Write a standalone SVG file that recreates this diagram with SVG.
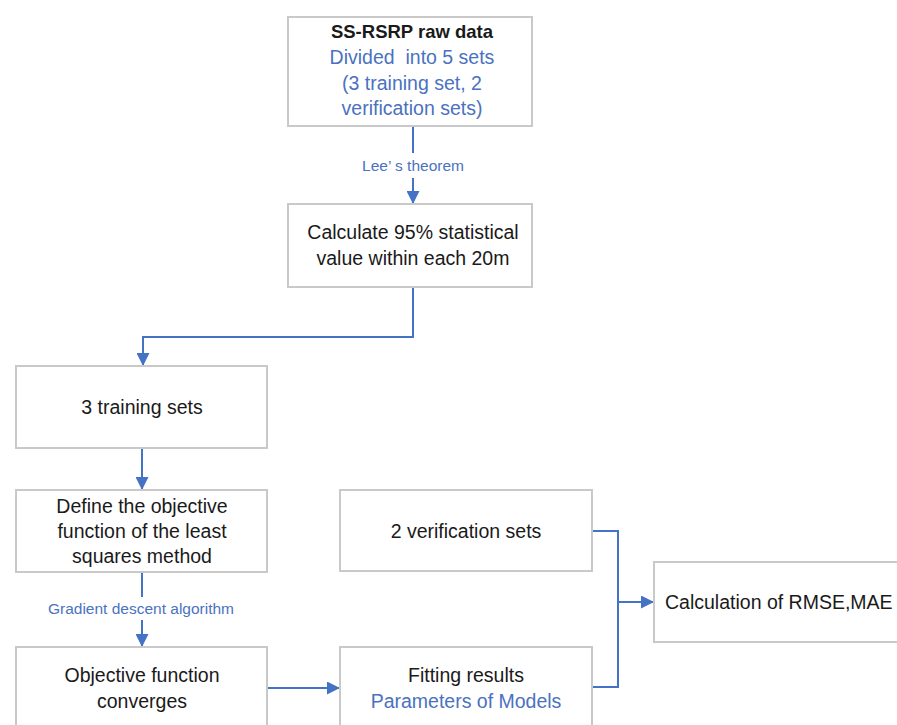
<svg xmlns="http://www.w3.org/2000/svg" width="897" height="725" viewBox="0 0 897 725">
<style>
.box{fill:#fff;stroke:#c9c9c9;stroke-width:2}
.t{font-family:"Liberation Sans",Arial,sans-serif;font-size:19.5px;fill:#1a1a1a;text-anchor:middle}
.b{fill:#4a72c0}
.s{font-family:"Liberation Sans",Arial,sans-serif;font-size:15.5px;fill:#4a72c0;text-anchor:middle}
.c{fill:none;stroke:#4472c4;stroke-width:2}
</style>
<defs>
<marker id="ah" markerWidth="13" markerHeight="13" refX="12" refY="6.5" orient="auto" markerUnits="userSpaceOnUse" viewBox="0 0 13 13">
<path d="M0,0 L13,6.5 L0,13 z" fill="#4472c4"/>
</marker>
</defs>
<rect width="897" height="725" fill="#fff"/>
<g id="connectors">
<line class="c" x1="413" y1="126" x2="413" y2="153"/>
<line class="c" x1="413" y1="178" x2="413" y2="203" marker-end="url(#ah)"/>
<polyline class="c" points="413,287 413,337 143,337 143,365" marker-end="url(#ah)"/>
<line class="c" x1="142" y1="448" x2="142" y2="489" marker-end="url(#ah)"/>
<line class="c" x1="142" y1="572" x2="142" y2="597"/>
<line class="c" x1="142" y1="620" x2="142" y2="646" marker-end="url(#ah)"/>
<line class="c" x1="267" y1="688" x2="339" y2="688" marker-end="url(#ah)"/>
<polyline class="c" points="592,531 618,531 618,687 592,687"/>
<line class="c" x1="618" y1="602" x2="653" y2="602" marker-end="url(#ah)"/>
<text class="s" x="413" y="171">Lee’ s theorem</text>
<text class="s" x="141" y="614">Gradient descent algorithm</text>
</g>
<g id="n1">
<rect class="box" x="288" y="17" width="244" height="109"/>
<text class="t" x="412" y="38" style="font-weight:bold;font-size:18.5px">SS-RSRP raw data</text>
<text class="t b" x="412" y="64" xml:space="preserve">Divided  into 5 sets</text>
<text class="t b" x="412" y="90">(3 training set, 2</text>
<text class="t b" x="412" y="115">verification sets)</text>
</g>
<g id="n2">
<rect class="box" x="288" y="204" width="244" height="83"/>
<text class="t" x="413" y="239">Calculate 95% statistical</text>
<text class="t" x="413" y="265">value within each 20m</text>
</g>
<g id="n3">
<rect class="box" x="16" y="366" width="251" height="82"/>
<text class="t" x="142" y="414">3 training sets</text>
</g>
<g id="n4">
<rect class="box" x="16" y="490" width="251" height="82"/>
<text class="t" x="142" y="513">Define the objective</text>
<text class="t" x="142" y="538">function of the least</text>
<text class="t" x="142" y="563">squares method</text>
</g>
<g id="n5">
<rect class="box" x="16" y="647" width="251" height="90"/>
<text class="t" x="142" y="682">Objective function</text>
<text class="t" x="142" y="708">converges</text>
</g>
<g id="n6">
<rect class="box" x="340" y="490" width="252" height="81"/>
<text class="t" x="466" y="538">2 verification sets</text>
</g>
<g id="n7">
<rect class="box" x="340" y="647" width="252" height="90"/>
<text class="t" x="466" y="682">Fitting results</text>
<text class="t b" x="466" y="708">Parameters of Models</text>
</g>
<g id="n8">
<rect class="box" x="654" y="562" width="250" height="80"/>
<text class="t" x="665" y="609" style="text-anchor:start">Calculation of RMSE,MAE</text>
</g>
</svg>
